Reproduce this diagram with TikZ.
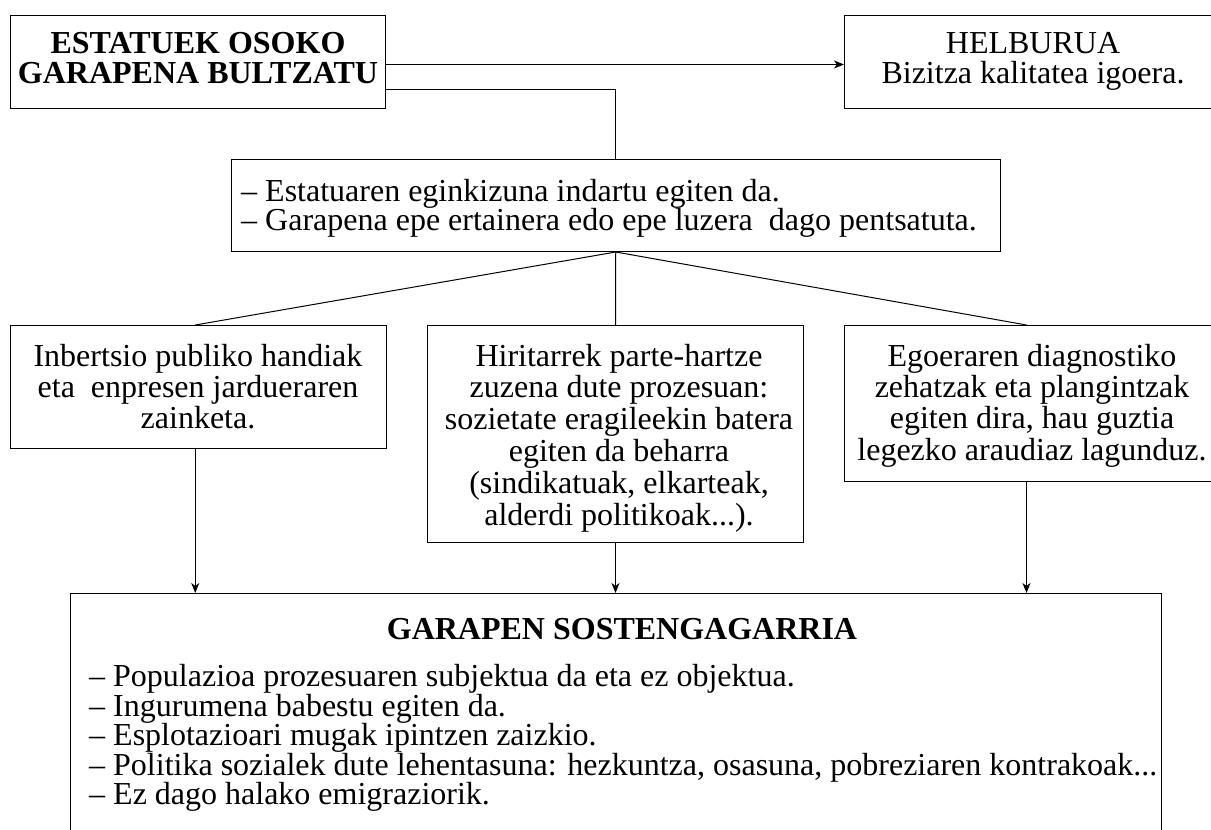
\documentclass[tikz,border=0pt]{standalone}
\usepackage{fontspec}
\setmainfont{Liberation Serif}
\usetikzlibrary{arrows.meta}
\begin{document}
\begin{tikzpicture}[x=1pt,y=-1pt,
  box/.style={draw, line width=1pt, inner sep=0pt, anchor=north west},
  t/.style={anchor=base, inner sep=0pt, font=\fontsize{32}{32}\selectfont},
  tl/.style={t, anchor=base west},
  tb/.style={t, font=\bfseries\fontsize{32}{32}\selectfont},
  conn/.style={line width=1pt},
  arr/.style={line width=1pt, -{Stealth[length=10pt,width=8pt,inset=3pt]}}]
\useasboundingbox (0,0) rectangle (1211,830);
% boxes
\node[box, minimum width=375pt, minimum height=93pt] (A) at (10,15) {};
\node[box, minimum width=378pt, minimum height=93pt] (B) at (844,15) {};
\node[box, minimum width=768.5pt, minimum height=92pt] (C) at (231,159) {};
\node[box, minimum width=375.5pt, minimum height=123pt] (D) at (10,325) {};
\node[box, minimum width=376pt, minimum height=217pt] (E) at (427,325) {};
\node[box, minimum width=378pt, minimum height=156pt] (F) at (844,325) {};
\node[box, minimum width=1091pt, minimum height=260pt] (G) at (70,593) {};
% texts
\node[tb] (A1) at (198,53.3) {ESTATUEK OSOKO};
\node[tb] (A2) at (198,83.3) {GARAPENA BULTZATU};
\node[t] (B1) at (1033,53.3) {HELBURUA};
\node[t] (B2) at (1033,83.3) {Bizitza kalitatea igoera.};
\node[tl] (C1) at (241,201) {– Estatuaren eginkizuna indartu egiten da.};
\node[tl] (C2) at (241,230) {– Garapena epe ertainera edo epe luzera\ \ dago pentsatuta.};
\node[t] (D1) at (198,366) {Inbertsio publiko handiak};
\node[t] (D2) at (198,397) {eta\ \ enpresen jardueraren};
\node[t] (D3) at (198,428) {zainketa.};
\node[t] (E1) at (619,366) {Hiritarrek parte-hartze};
\node[t] (E2) at (619,397.8) {zuzena dute prozesuan:};
\node[t] (E3) at (619,429.6) {sozietate eragileekin batera};
\node[t] (E4) at (619,461.4) {egiten da beharra};
\node[t] (E5) at (619,493.2) {(sindikatuak, elkarteak,};
\node[t] (E6) at (619,525) {alderdi politikoak...).};
\node[t] (F1) at (1032,366) {Egoeraren diagnostiko};
\node[t] (F2) at (1032,397.3) {zehatzak eta plangintzak};
\node[t] (F3) at (1032,428.6) {egiten dira, hau guztia};
\node[t] (F4) at (1032,460) {legezko araudiaz lagunduz.};
\node[tb] (G0) at (622,639) {GARAPEN SOSTENGAGARRIA};
\node[tl] (G1) at (89,686.5) {– Populazioa prozesuaren subjektua da eta ez objektua.};
\node[tl] (G2) at (89,716) {– Ingurumena babestu egiten da.};
\node[tl] (G3) at (89,745.5) {– Esplotazioari mugak ipintzen zaizkio.};
\node[tl] (G4) at (89,775) {– Politika sozialek dute lehentasuna: hezkuntza, osasuna, pobreziaren kontrakoak...};
\node[tl] (G5) at (89,804.5) {– Ez dago halako emigraziorik.};
% connectors
\draw[arr] ([yshift=-2.5pt]A.east) -- ([yshift=-2.5pt]B.west);
\draw[conn] ([yshift=-27.5pt]A.east) -| (C.north);
\draw[conn] (C.south) -- ([xshift=-3pt]D.north);
\draw[conn] (C.south) -- (E.north);
\draw[conn] (C.south) -- ([xshift=-7pt]F.north);
\draw[arr] ([xshift=-3pt]D.south) -- ([xshift=-3pt]D.south |- G.north);
\draw[arr] (E.south) -- (E.south |- G.north);
\draw[arr] ([xshift=-7pt]F.south) -- ([xshift=-7pt]F.south |- G.north);
\end{tikzpicture}
\end{document}
